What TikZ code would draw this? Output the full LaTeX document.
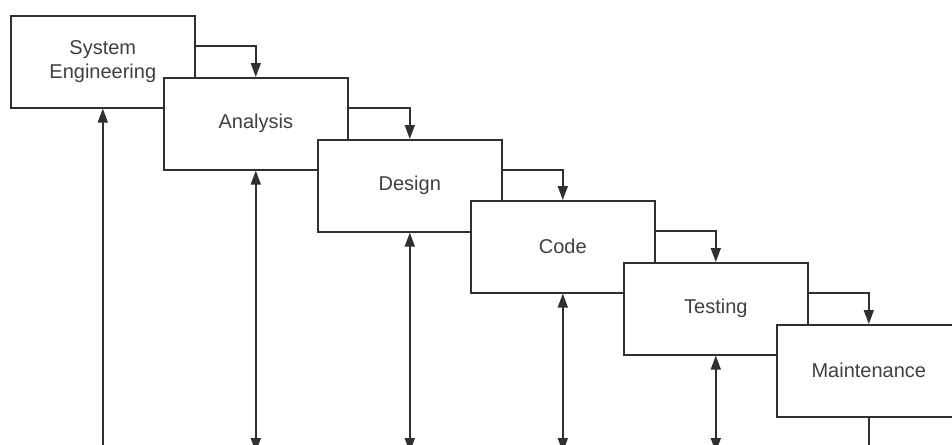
\documentclass[tikz,border=0pt]{standalone}
\usepackage{fontspec}
\setmainfont{Liberation Sans}
\usetikzlibrary{arrows.meta,calc}
\definecolor{ln}{HTML}{303030}
\definecolor{tx}{HTML}{404040}
\tikzset{
  box/.style={draw=ln, line width=1.6pt, fill=white, anchor=north west,
    minimum width=184pt, minimum height=92pt, inner sep=0pt, align=center,
    text=tx, font=\fontsize{20}{24}\selectfont},
  conn/.style={draw=ln, line width=1.6pt},
  tip/.style={-{Triangle[length=14pt,width=10pt]}},
  dtip/.style={{Triangle[length=14pt,width=10pt]}-{Triangle[length=14pt,width=10pt]}}
}
\begin{document}
\begin{tikzpicture}[x=1pt,y=-1pt]
\useasboundingbox (0,0) rectangle (952,444);
\node[box] (se) at (10,15) {System\\Engineering};
\node[box] (an) at (163,77) {Analysis};
\node[box] (de) at (317,139) {Design};
\node[box] (co) at (470,200) {Code};
\node[box] (te) at (623,262) {Testing};
\node[box] (ma) at (776,324) {Maintenance};
% step connectors
\draw[conn,tip] ($(se.north east)+(0,31)$) -| (an.north);
\draw[conn,tip] ($(an.north east)+(0,31)$) -| (de.north);
\draw[conn,tip] ($(de.north east)+(0,31)$) -| (co.north);
\draw[conn,tip] ($(co.north east)+(0,31)$) -| (te.north);
\draw[conn,tip] ($(te.north east)+(0,31)$) -| (ma.north);
% bottom ends
\coordinate (b1) at (se.south |- 0,452);
\coordinate (b2) at (an.south |- 0,452);
\coordinate (b3) at (de.south |- 0,452);
\coordinate (b4) at (co.south |- 0,452);
\coordinate (b5) at (te.south |- 0,452);
\coordinate (b6) at (ma.south |- 0,452);
\draw[conn,tip] (b1) -- (se.south);
\draw[conn,dtip] (an.south) -- (b2);
\draw[conn,dtip] (de.south) -- (b3);
\draw[conn,dtip] (co.south) -- (b4);
\draw[conn,dtip] (te.south) -- (b5);
\draw[conn] (ma.south) -- (b6);
\end{tikzpicture}
\end{document}
